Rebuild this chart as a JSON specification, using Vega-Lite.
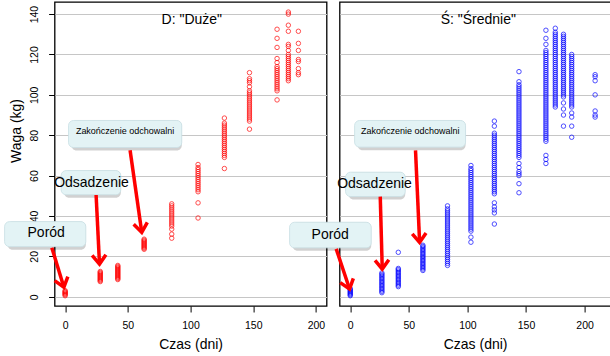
{
  "$schema": "https://vega.github.io/schema/vega-lite/v6.json",
  "background": "white",
  "padding": {"left": 2.6, "top": 1, "right": 0, "bottom": 0},
  "config": {
    "font": "Liberation Sans",
    "view": {"stroke": "#000", "strokeWidth": 1.3},
    "axis": {
      "domain": false,
      "labelFont": "Liberation Sans", "labelFontSize": 10.5, "labelColor": "#000",
      "tickColor": "#000", "tickSize": 6, "labelPadding": 9,
      "gridColor": "#c6c6c6", "gridWidth": 1,
      "titleFont": "Liberation Sans", "titleFontSize": 14, "titleFontWeight": "normal", "titleColor": "#000", "titlePadding": 6
    }
  },
  "datasets": {
    "D": [
      {"day":0,"weight":0.5},{"day":0,"weight":1},{"day":0,"weight":1.4},{"day":0,"weight":1.8},{"day":0,"weight":2.2},{"day":0,"weight":2.6},{"day":0,"weight":3},
      {"day":28,"weight":7.5},{"day":28,"weight":8},{"day":28,"weight":8.5},{"day":28,"weight":9},{"day":28,"weight":9.5},{"day":28,"weight":10},{"day":28,"weight":10.5},{"day":28,"weight":11},{"day":28,"weight":11.5},{"day":28,"weight":12},{"day":28,"weight":12.5},
      {"day":42,"weight":8.5},{"day":42,"weight":9},{"day":42,"weight":9.5},{"day":42,"weight":10},{"day":42,"weight":10.5},{"day":42,"weight":11},{"day":42,"weight":11.5},{"day":42,"weight":12},{"day":42,"weight":12.5},{"day":42,"weight":13},{"day":42,"weight":13.5},{"day":42,"weight":14},{"day":42,"weight":14.5},{"day":42,"weight":15},{"day":42,"weight":15.5},
      {"day":63,"weight":23.5},{"day":63,"weight":24},{"day":63,"weight":24.5},{"day":63,"weight":25},{"day":63,"weight":25.5},{"day":63,"weight":26},{"day":63,"weight":26.5},{"day":63,"weight":27},{"day":63,"weight":27.5},{"day":63,"weight":28},{"day":63,"weight":28.5},
      {"day":85,"weight":29},{"day":85,"weight":31},{"day":85,"weight":33.5},{"day":85,"weight":35},{"day":85,"weight":36},{"day":85,"weight":37},{"day":85,"weight":38},{"day":85,"weight":39},{"day":85,"weight":40},{"day":85,"weight":41},{"day":85,"weight":42},{"day":85,"weight":43},{"day":85,"weight":44},{"day":85,"weight":45},{"day":85,"weight":46},
      {"day":106,"weight":39},{"day":106,"weight":46.5},{"day":106,"weight":52},{"day":106,"weight":53},{"day":106,"weight":54},{"day":106,"weight":55},{"day":106,"weight":56},{"day":106,"weight":57},{"day":106,"weight":58},{"day":106,"weight":59},{"day":106,"weight":60},{"day":106,"weight":61},{"day":106,"weight":62},{"day":106,"weight":63},{"day":106,"weight":64},{"day":106,"weight":65.5},
      {"day":127,"weight":63.5},{"day":127,"weight":69},{"day":127,"weight":70},{"day":127,"weight":71},{"day":127,"weight":72},{"day":127,"weight":73},{"day":127,"weight":74},{"day":127,"weight":75},{"day":127,"weight":76},{"day":127,"weight":77},{"day":127,"weight":78},{"day":127,"weight":79},{"day":127,"weight":80},{"day":127,"weight":81},{"day":127,"weight":82},{"day":127,"weight":83},{"day":127,"weight":84},{"day":127,"weight":85},{"day":127,"weight":86},{"day":127,"weight":88.5},
      {"day":147,"weight":83},{"day":147,"weight":87},{"day":147,"weight":88},{"day":147,"weight":89},{"day":147,"weight":90},{"day":147,"weight":91},{"day":147,"weight":92},{"day":147,"weight":93},{"day":147,"weight":94},{"day":147,"weight":95},{"day":147,"weight":96},{"day":147,"weight":97},{"day":147,"weight":98},{"day":147,"weight":99},{"day":147,"weight":100},{"day":147,"weight":101},{"day":147,"weight":102},{"day":147,"weight":104},{"day":147,"weight":106},{"day":147,"weight":107},{"day":147,"weight":108},{"day":147,"weight":111},
      {"day":169,"weight":97.5},{"day":169,"weight":102},{"day":169,"weight":103},{"day":169,"weight":104},{"day":169,"weight":105},{"day":169,"weight":106},{"day":169,"weight":107},{"day":169,"weight":108},{"day":169,"weight":109},{"day":169,"weight":110},{"day":169,"weight":111},{"day":169,"weight":112},{"day":169,"weight":113},{"day":169,"weight":114},{"day":169,"weight":116},{"day":169,"weight":118},{"day":169,"weight":123.5},{"day":169,"weight":128},{"day":169,"weight":132.5},
      {"day":178,"weight":107},{"day":178,"weight":108},{"day":178,"weight":109},{"day":178,"weight":110},{"day":178,"weight":111},{"day":178,"weight":112},{"day":178,"weight":113},{"day":178,"weight":114},{"day":178,"weight":115},{"day":178,"weight":116},{"day":178,"weight":117},{"day":178,"weight":118},{"day":178,"weight":119},{"day":178,"weight":120},{"day":178,"weight":122},{"day":178,"weight":124},{"day":178,"weight":125},{"day":178,"weight":131.5},{"day":178,"weight":134.5},{"day":178,"weight":140},{"day":178,"weight":141},
      {"day":186,"weight":110},{"day":186,"weight":111},{"day":186,"weight":113},{"day":186,"weight":116.5},{"day":186,"weight":117.5},{"day":186,"weight":122},{"day":186,"weight":125.5},{"day":186,"weight":131.5}
    ],
    "S": [
      {"day":0,"weight":0.5},{"day":0,"weight":1},{"day":0,"weight":1.5},{"day":0,"weight":2},{"day":0,"weight":2.5},{"day":0,"weight":3},{"day":0,"weight":3.5},{"day":0,"weight":4},
      {"day":27,"weight":2},{"day":27,"weight":2.7},{"day":27,"weight":3.4},{"day":27,"weight":4.1},{"day":27,"weight":4.8},{"day":27,"weight":5.5},{"day":27,"weight":6.2},{"day":27,"weight":6.9},{"day":27,"weight":7.6},{"day":27,"weight":8.3},{"day":27,"weight":9},{"day":27,"weight":9.7},{"day":27,"weight":10.4},{"day":27,"weight":11.1},{"day":27,"weight":11.8},
      {"day":41,"weight":5},{"day":41,"weight":5.7},{"day":41,"weight":6.4},{"day":41,"weight":7.1},{"day":41,"weight":7.8},{"day":41,"weight":8.5},{"day":41,"weight":9.2},{"day":41,"weight":9.9},{"day":41,"weight":10.6},{"day":41,"weight":11.3},{"day":41,"weight":12},{"day":41,"weight":12.7},{"day":41,"weight":13.4},{"day":41,"weight":14},{"day":41,"weight":22},
      {"day":62,"weight":13},{"day":62,"weight":13.7},{"day":62,"weight":14.4},{"day":62,"weight":15.1},{"day":62,"weight":15.8},{"day":62,"weight":16.5},{"day":62,"weight":17.2},{"day":62,"weight":17.9},{"day":62,"weight":18.6},{"day":62,"weight":19.3},{"day":62,"weight":20},{"day":62,"weight":20.7},{"day":62,"weight":21.4},{"day":62,"weight":22.1},{"day":62,"weight":22.8},{"day":62,"weight":23.5},{"day":62,"weight":24.2},{"day":62,"weight":24.9},{"day":62,"weight":25.5},
      {"day":83,"weight":15.5},{"day":83,"weight":16.5},{"day":83,"weight":17.5},{"day":83,"weight":18.5},{"day":83,"weight":19.5},{"day":83,"weight":20.5},{"day":83,"weight":21.5},{"day":83,"weight":22.5},{"day":83,"weight":23.5},{"day":83,"weight":24.5},{"day":83,"weight":25.5},{"day":83,"weight":26.5},{"day":83,"weight":27.5},{"day":83,"weight":28.5},{"day":83,"weight":29.5},{"day":83,"weight":30.5},{"day":83,"weight":31.5},{"day":83,"weight":32.5},{"day":83,"weight":33.5},{"day":83,"weight":34.5},{"day":83,"weight":35.5},{"day":83,"weight":36.5},{"day":83,"weight":37.5},{"day":83,"weight":38.5},{"day":83,"weight":39.5},{"day":83,"weight":40.5},{"day":83,"weight":41.5},{"day":83,"weight":42.5},{"day":83,"weight":43.5},{"day":83,"weight":45},
      {"day":103,"weight":27},{"day":103,"weight":29.5},{"day":103,"weight":32.5},{"day":103,"weight":33.5},{"day":103,"weight":34.5},{"day":103,"weight":35.5},{"day":103,"weight":36.5},{"day":103,"weight":37.5},{"day":103,"weight":38.5},{"day":103,"weight":39.5},{"day":103,"weight":40.5},{"day":103,"weight":41.5},{"day":103,"weight":42.5},{"day":103,"weight":43.5},{"day":103,"weight":44.5},{"day":103,"weight":45.5},{"day":103,"weight":46.5},{"day":103,"weight":47.5},{"day":103,"weight":48.5},{"day":103,"weight":49.5},{"day":103,"weight":50.5},{"day":103,"weight":51.5},{"day":103,"weight":52.5},{"day":103,"weight":53.5},{"day":103,"weight":54.5},{"day":103,"weight":55.5},{"day":103,"weight":56.5},{"day":103,"weight":57.5},{"day":103,"weight":58.5},{"day":103,"weight":59.5},{"day":103,"weight":60.5},{"day":103,"weight":61.5},{"day":103,"weight":62.5},{"day":103,"weight":63.5},{"day":103,"weight":65},
      {"day":123,"weight":36},{"day":123,"weight":41.5},{"day":123,"weight":43},{"day":123,"weight":44.5},{"day":123,"weight":46.5},{"day":123,"weight":51},{"day":123,"weight":52},{"day":123,"weight":53},{"day":123,"weight":54},{"day":123,"weight":55},{"day":123,"weight":56},{"day":123,"weight":57},{"day":123,"weight":58},{"day":123,"weight":59},{"day":123,"weight":60},{"day":123,"weight":61},{"day":123,"weight":62},{"day":123,"weight":63},{"day":123,"weight":64},{"day":123,"weight":65},{"day":123,"weight":66},{"day":123,"weight":67},{"day":123,"weight":68},{"day":123,"weight":69},{"day":123,"weight":70},{"day":123,"weight":71},{"day":123,"weight":72},{"day":123,"weight":73},{"day":123,"weight":74},{"day":123,"weight":75},{"day":123,"weight":76},{"day":123,"weight":77},{"day":123,"weight":78},{"day":123,"weight":79},{"day":123,"weight":80},{"day":123,"weight":81},{"day":123,"weight":84.5},{"day":123,"weight":87},
      {"day":144,"weight":51.5},{"day":144,"weight":56},{"day":144,"weight":60},{"day":144,"weight":61},{"day":144,"weight":62},{"day":144,"weight":64},{"day":144,"weight":66},{"day":144,"weight":69},{"day":144,"weight":70},{"day":144,"weight":71},{"day":144,"weight":72},{"day":144,"weight":73},{"day":144,"weight":74},{"day":144,"weight":75},{"day":144,"weight":76},{"day":144,"weight":77},{"day":144,"weight":78},{"day":144,"weight":79},{"day":144,"weight":80},{"day":144,"weight":81},{"day":144,"weight":82},{"day":144,"weight":83},{"day":144,"weight":84},{"day":144,"weight":85},{"day":144,"weight":86},{"day":144,"weight":87},{"day":144,"weight":88},{"day":144,"weight":89},{"day":144,"weight":90},{"day":144,"weight":91},{"day":144,"weight":92},{"day":144,"weight":93},{"day":144,"weight":94},{"day":144,"weight":95},{"day":144,"weight":96},{"day":144,"weight":97},{"day":144,"weight":98},{"day":144,"weight":99},{"day":144,"weight":100},{"day":144,"weight":101},{"day":144,"weight":102},{"day":144,"weight":103},{"day":144,"weight":104},{"day":144,"weight":105},{"day":144,"weight":106.5},{"day":144,"weight":111.5},
      {"day":167,"weight":66},{"day":167,"weight":68},{"day":167,"weight":70},{"day":167,"weight":77},{"day":167,"weight":78},{"day":167,"weight":79},{"day":167,"weight":80},{"day":167,"weight":81},{"day":167,"weight":82},{"day":167,"weight":83},{"day":167,"weight":84},{"day":167,"weight":85},{"day":167,"weight":86},{"day":167,"weight":87},{"day":167,"weight":88},{"day":167,"weight":89},{"day":167,"weight":90},{"day":167,"weight":91},{"day":167,"weight":92},{"day":167,"weight":93},{"day":167,"weight":94},{"day":167,"weight":95},{"day":167,"weight":96},{"day":167,"weight":97},{"day":167,"weight":98},{"day":167,"weight":99},{"day":167,"weight":100},{"day":167,"weight":101},{"day":167,"weight":102},{"day":167,"weight":103},{"day":167,"weight":104},{"day":167,"weight":105},{"day":167,"weight":106},{"day":167,"weight":107},{"day":167,"weight":108},{"day":167,"weight":109},{"day":167,"weight":110},{"day":167,"weight":111},{"day":167,"weight":112},{"day":167,"weight":113},{"day":167,"weight":114},{"day":167,"weight":115},{"day":167,"weight":116},{"day":167,"weight":117},{"day":167,"weight":118},{"day":167,"weight":119},{"day":167,"weight":120},{"day":167,"weight":121},{"day":167,"weight":122},{"day":167,"weight":125},{"day":167,"weight":128},{"day":167,"weight":132},
      {"day":175,"weight":94},{"day":175,"weight":95},{"day":175,"weight":96},{"day":175,"weight":97},{"day":175,"weight":98},{"day":175,"weight":99},{"day":175,"weight":100},{"day":175,"weight":101},{"day":175,"weight":102},{"day":175,"weight":103},{"day":175,"weight":104},{"day":175,"weight":105},{"day":175,"weight":106},{"day":175,"weight":107},{"day":175,"weight":108},{"day":175,"weight":109},{"day":175,"weight":110},{"day":175,"weight":111},{"day":175,"weight":112},{"day":175,"weight":113},{"day":175,"weight":114},{"day":175,"weight":115},{"day":175,"weight":116},{"day":175,"weight":117},{"day":175,"weight":118},{"day":175,"weight":119},{"day":175,"weight":120},{"day":175,"weight":121},{"day":175,"weight":122},{"day":175,"weight":123},{"day":175,"weight":124},{"day":175,"weight":125},{"day":175,"weight":126},{"day":175,"weight":127},{"day":175,"weight":128},{"day":175,"weight":129},{"day":175,"weight":130},{"day":175,"weight":131},{"day":175,"weight":133},
      {"day":182,"weight":84.5},{"day":182,"weight":90},{"day":182,"weight":93},{"day":182,"weight":96},{"day":182,"weight":99},{"day":182,"weight":100},{"day":182,"weight":101},{"day":182,"weight":102},{"day":182,"weight":103},{"day":182,"weight":104},{"day":182,"weight":105},{"day":182,"weight":106},{"day":182,"weight":107},{"day":182,"weight":108},{"day":182,"weight":109},{"day":182,"weight":110},{"day":182,"weight":111},{"day":182,"weight":112},{"day":182,"weight":113},{"day":182,"weight":114},{"day":182,"weight":115},{"day":182,"weight":116},{"day":182,"weight":117},{"day":182,"weight":118},{"day":182,"weight":119},{"day":182,"weight":120},{"day":182,"weight":121},{"day":182,"weight":122},{"day":182,"weight":123},{"day":182,"weight":124},{"day":182,"weight":125},{"day":182,"weight":126},{"day":182,"weight":127},{"day":182,"weight":128},{"day":182,"weight":129},{"day":182,"weight":130},
      {"day":189,"weight":79},{"day":189,"weight":84.5},{"day":189,"weight":89},{"day":189,"weight":91},{"day":189,"weight":94},{"day":189,"weight":95},{"day":189,"weight":96},{"day":189,"weight":97},{"day":189,"weight":98},{"day":189,"weight":99},{"day":189,"weight":100},{"day":189,"weight":101},{"day":189,"weight":102},{"day":189,"weight":103},{"day":189,"weight":104},{"day":189,"weight":105},{"day":189,"weight":106},{"day":189,"weight":107},{"day":189,"weight":108},{"day":189,"weight":109},{"day":189,"weight":110},{"day":189,"weight":111},{"day":189,"weight":112},{"day":189,"weight":113},{"day":189,"weight":114},{"day":189,"weight":115},{"day":189,"weight":116},{"day":189,"weight":117},{"day":189,"weight":118},{"day":189,"weight":119},{"day":189,"weight":120},
      {"day":209,"weight":89},{"day":209,"weight":90},{"day":209,"weight":92},{"day":209,"weight":100},{"day":209,"weight":107},{"day":209,"weight":109},{"day":209,"weight":110}
    ],
    "A": [
      {"panel":"D","label":"Poród","bx1":-48.3,"bx2":16.5,"by1":24.8,"by2":37.2,"tx":-15.1,"ty":31.6,"ax1":-10.6,"ay1":24.3,"ax2":-1.0,"ay2":4.7},
      {"panel":"D","label":"Odsadzenie","bx1":-3.2,"bx2":44.4,"by1":50.5,"by2":62.5,"tx":21.0,"ty":56.4,"ax1":24.7,"ay1":50.4,"ax2":27.4,"ay2":16.2},
      {"panel":"D","label":"Zakończenie odchowalni","bx1":2.7,"bx2":93,"by1":73.9,"by2":87.3,"tx":47.8,"ty":81.9,"ax1":51.8,"ay1":72.5,"ax2":61.1,"ay2":31.9},
      {"panel":"S","label":"Poród","bx1":-51.8,"bx2":17.9,"by1":24.2,"by2":36.9,"tx":-17.1,"ty":30.8,"ax1":-12,"ay1":23.7,"ax2":-0.6,"ay2":3.8},
      {"panel":"S","label":"Odsadzenie","bx1":-4.0,"bx2":46.9,"by1":49.6,"by2":61.7,"tx":20.7,"ty":55.9,"ax1":25.6,"ay1":49.6,"ax2":27.3,"ay2":13.7},
      {"panel":"S","label":"Zakończenie odchowalni","bx1":3.7,"bx2":98.4,"by1":74.1,"by2":87.3,"tx":51.2,"ty":82,"ax1":55.7,"ay1":72.5,"ax2":59.2,"ay2":26.9}
    ]
  },
  "spacing": 13,
  "bounds": "flush",
  "resolve": {"scale": {"x": "independent", "y": "independent"}},
  "hconcat": [
    {
      "width": 272, "height": 304,
      "layer": [
        {
          "data": {"name": "D"},
          "mark": {"type": "point", "shape": "circle", "filled": false, "color": "#ff0000", "size": 20, "strokeWidth": 1},
          "encoding": {
            "x": {"field": "day", "type": "quantitative", "scale": {"domain": [-8.4, 208.5], "nice": false, "zero": false},
                  "axis": {"title": "Czas (dni)", "values": [0, 50, 100, 150, 200], "grid": false}},
            "y": {"field": "weight", "type": "quantitative", "scale": {"domain": [-4.6, 146], "nice": false, "zero": false},
                  "axis": {"title": "Waga (kg)", "values": [0, 20, 40, 60, 80, 100, 120, 140], "grid": true, "labelAngle": -90, "titleY": 128.5}}
          }
        },
        {
          "data": {"name": "A"}, "transform": [{"filter": "datum.panel === 'D'"}],
          "mark": {"type": "rect", "fill": "#000", "opacity": 0.18, "cornerRadius": 5, "xOffset": 3, "yOffset": 3},
          "encoding": {"x": {"field": "bx1", "type": "quantitative"}, "x2": {"field": "bx2"}, "y": {"field": "by1", "type": "quantitative"}, "y2": {"field": "by2"}}
        },
        {
          "data": {"name": "A"}, "transform": [{"filter": "datum.panel === 'D'"}],
          "mark": {"type": "rect", "fill": "#e3f3f5", "stroke": "#c9e0e4", "strokeWidth": 0.8, "cornerRadius": 5},
          "encoding": {"x": {"field": "bx1", "type": "quantitative"}, "x2": {"field": "bx2"}, "y": {"field": "by1", "type": "quantitative"}, "y2": {"field": "by2"}}
        },
        {
          "data": {"name": "A"}, "transform": [{"filter": "datum.panel === 'D'"}],
          "mark": {"type": "rule", "color": "#ff0000", "strokeWidth": 3.5, "strokeCap": "butt"},
          "encoding": {"x": {"field": "ax1", "type": "quantitative"}, "y": {"field": "ay1", "type": "quantitative"}, "x2": {"field": "ax2"}, "y2": {"field": "ay2"}}
        },
        {
          "data": {"name": "A"}, "transform": [{"filter": "datum.panel === 'D' && datum.label === 'Poród'"}],
          "mark": {"type": "point", "shape": "M-1.15,-1.5L0,0L1.15,-1.5", "filled": false, "stroke": "#ff0000", "strokeWidth": 3.5, "size": 144, "angle": -17, "opacity": 1},
          "encoding": {"x": {"field": "ax2", "type": "quantitative"}, "y": {"field": "ay2", "type": "quantitative"}}
        },
        {
          "data": {"name": "A"}, "transform": [{"filter": "datum.panel === 'D' && datum.label === 'Odsadzenie'"}],
          "mark": {"type": "point", "shape": "M-1.15,-1.5L0,0L1.15,-1.5", "filled": false, "stroke": "#ff0000", "strokeWidth": 3.5, "size": 144, "angle": -3, "opacity": 1},
          "encoding": {"x": {"field": "ax2", "type": "quantitative"}, "y": {"field": "ay2", "type": "quantitative"}}
        },
        {
          "data": {"name": "A"}, "transform": [{"filter": "datum.panel === 'D' && datum.label === 'Zakończenie odchowalni'"}],
          "mark": {"type": "point", "shape": "M-1.15,-1.5L0,0L1.15,-1.5", "filled": false, "stroke": "#ff0000", "strokeWidth": 3.5, "size": 144, "angle": -8, "opacity": 1},
          "encoding": {"x": {"field": "ax2", "type": "quantitative"}, "y": {"field": "ay2", "type": "quantitative"}}
        },
        {
          "data": {"name": "A"}, "transform": [{"filter": "datum.panel === 'D' && datum.label !== 'Zakończenie odchowalni'"}],
          "mark": {"type": "text", "font": "Liberation Sans", "fontSize": 14, "color": "#000", "align": "center", "baseline": "middle"},
          "encoding": {"x": {"field": "tx", "type": "quantitative"}, "y": {"field": "ty", "type": "quantitative"}, "text": {"field": "label"}}
        },
        {
          "data": {"name": "A"}, "transform": [{"filter": "datum.panel === 'D' && datum.label === 'Zakończenie odchowalni'"}],
          "mark": {"type": "text", "font": "Liberation Sans", "fontSize": 9, "color": "#000", "align": "center", "baseline": "middle"},
          "encoding": {"x": {"field": "tx", "type": "quantitative"}, "y": {"field": "ty", "type": "quantitative"}, "text": {"field": "label"}}
        },
        {
          "data": {"values": [{"title": "D: \"Duże\""}]},
          "mark": {"type": "text", "font": "Liberation Sans", "fontSize": 14, "color": "#000", "align": "center", "baseline": "middle"},
          "encoding": {"x": {"datum": 101}, "y": {"datum": 137}, "text": {"field": "title"}}
        }
      ]
    },
    {
      "width": 271, "height": 304,
      "layer": [
        {
          "data": {"name": "S"},
          "mark": {"type": "point", "shape": "circle", "filled": false, "color": "#0000ff", "size": 20, "strokeWidth": 1},
          "encoding": {
            "x": {"field": "day", "type": "quantitative", "scale": {"domain": [-9.1, 222.2], "nice": false, "zero": false},
                  "axis": {"title": "Czas (dni)", "values": [0, 50, 100, 150, 200], "grid": false}},
            "y": {"field": "weight", "type": "quantitative", "scale": {"domain": [-4.6, 146], "nice": false, "zero": false},
                  "axis": {"title": null, "values": [0, 20, 40, 60, 80, 100, 120, 140], "grid": true, "labels": false, "ticks": false}}
          }
        },
        {
          "data": {"name": "A"}, "transform": [{"filter": "datum.panel === 'S'"}],
          "mark": {"type": "rect", "fill": "#000", "opacity": 0.18, "cornerRadius": 5, "xOffset": 3, "yOffset": 3},
          "encoding": {"x": {"field": "bx1", "type": "quantitative"}, "x2": {"field": "bx2"}, "y": {"field": "by1", "type": "quantitative"}, "y2": {"field": "by2"}}
        },
        {
          "data": {"name": "A"}, "transform": [{"filter": "datum.panel === 'S'"}],
          "mark": {"type": "rect", "fill": "#e3f3f5", "stroke": "#c9e0e4", "strokeWidth": 0.8, "cornerRadius": 5},
          "encoding": {"x": {"field": "bx1", "type": "quantitative"}, "x2": {"field": "bx2"}, "y": {"field": "by1", "type": "quantitative"}, "y2": {"field": "by2"}}
        },
        {
          "data": {"name": "A"}, "transform": [{"filter": "datum.panel === 'S'"}],
          "mark": {"type": "rule", "color": "#ff0000", "strokeWidth": 3.5, "strokeCap": "butt"},
          "encoding": {"x": {"field": "ax1", "type": "quantitative"}, "y": {"field": "ay1", "type": "quantitative"}, "x2": {"field": "ax2"}, "y2": {"field": "ay2"}}
        },
        {
          "data": {"name": "A"}, "transform": [{"filter": "datum.panel === 'S' && datum.label === 'Poród'"}],
          "mark": {"type": "point", "shape": "M-1.15,-1.5L0,0L1.15,-1.5", "filled": false, "stroke": "#ff0000", "strokeWidth": 3.5, "size": 144, "angle": -18, "opacity": 1},
          "encoding": {"x": {"field": "ax2", "type": "quantitative"}, "y": {"field": "ay2", "type": "quantitative"}}
        },
        {
          "data": {"name": "A"}, "transform": [{"filter": "datum.panel === 'S' && datum.label === 'Odsadzenie'"}],
          "mark": {"type": "point", "shape": "M-1.15,-1.5L0,0L1.15,-1.5", "filled": false, "stroke": "#ff0000", "strokeWidth": 3.5, "size": 144, "angle": -2, "opacity": 1},
          "encoding": {"x": {"field": "ax2", "type": "quantitative"}, "y": {"field": "ay2", "type": "quantitative"}}
        },
        {
          "data": {"name": "A"}, "transform": [{"filter": "datum.panel === 'S' && datum.label === 'Zakończenie odchowalni'"}],
          "mark": {"type": "point", "shape": "M-1.15,-1.5L0,0L1.15,-1.5", "filled": false, "stroke": "#ff0000", "strokeWidth": 3.5, "size": 144, "angle": -3, "opacity": 1},
          "encoding": {"x": {"field": "ax2", "type": "quantitative"}, "y": {"field": "ay2", "type": "quantitative"}}
        },
        {
          "data": {"name": "A"}, "transform": [{"filter": "datum.panel === 'S' && datum.label !== 'Zakończenie odchowalni'"}],
          "mark": {"type": "text", "font": "Liberation Sans", "fontSize": 14, "color": "#000", "align": "center", "baseline": "middle"},
          "encoding": {"x": {"field": "tx", "type": "quantitative"}, "y": {"field": "ty", "type": "quantitative"}, "text": {"field": "label"}}
        },
        {
          "data": {"name": "A"}, "transform": [{"filter": "datum.panel === 'S' && datum.label === 'Zakończenie odchowalni'"}],
          "mark": {"type": "text", "font": "Liberation Sans", "fontSize": 9, "color": "#000", "align": "center", "baseline": "middle"},
          "encoding": {"x": {"field": "tx", "type": "quantitative"}, "y": {"field": "ty", "type": "quantitative"}, "text": {"field": "label"}}
        },
        {
          "data": {"values": [{"title": "Ś: \"Średnie\""}]},
          "mark": {"type": "text", "font": "Liberation Sans", "fontSize": 14, "color": "#000", "align": "center", "baseline": "middle"},
          "encoding": {"x": {"datum": 109.3}, "y": {"datum": 137}, "text": {"field": "title"}}
        }
      ]
    }
  ]
}
